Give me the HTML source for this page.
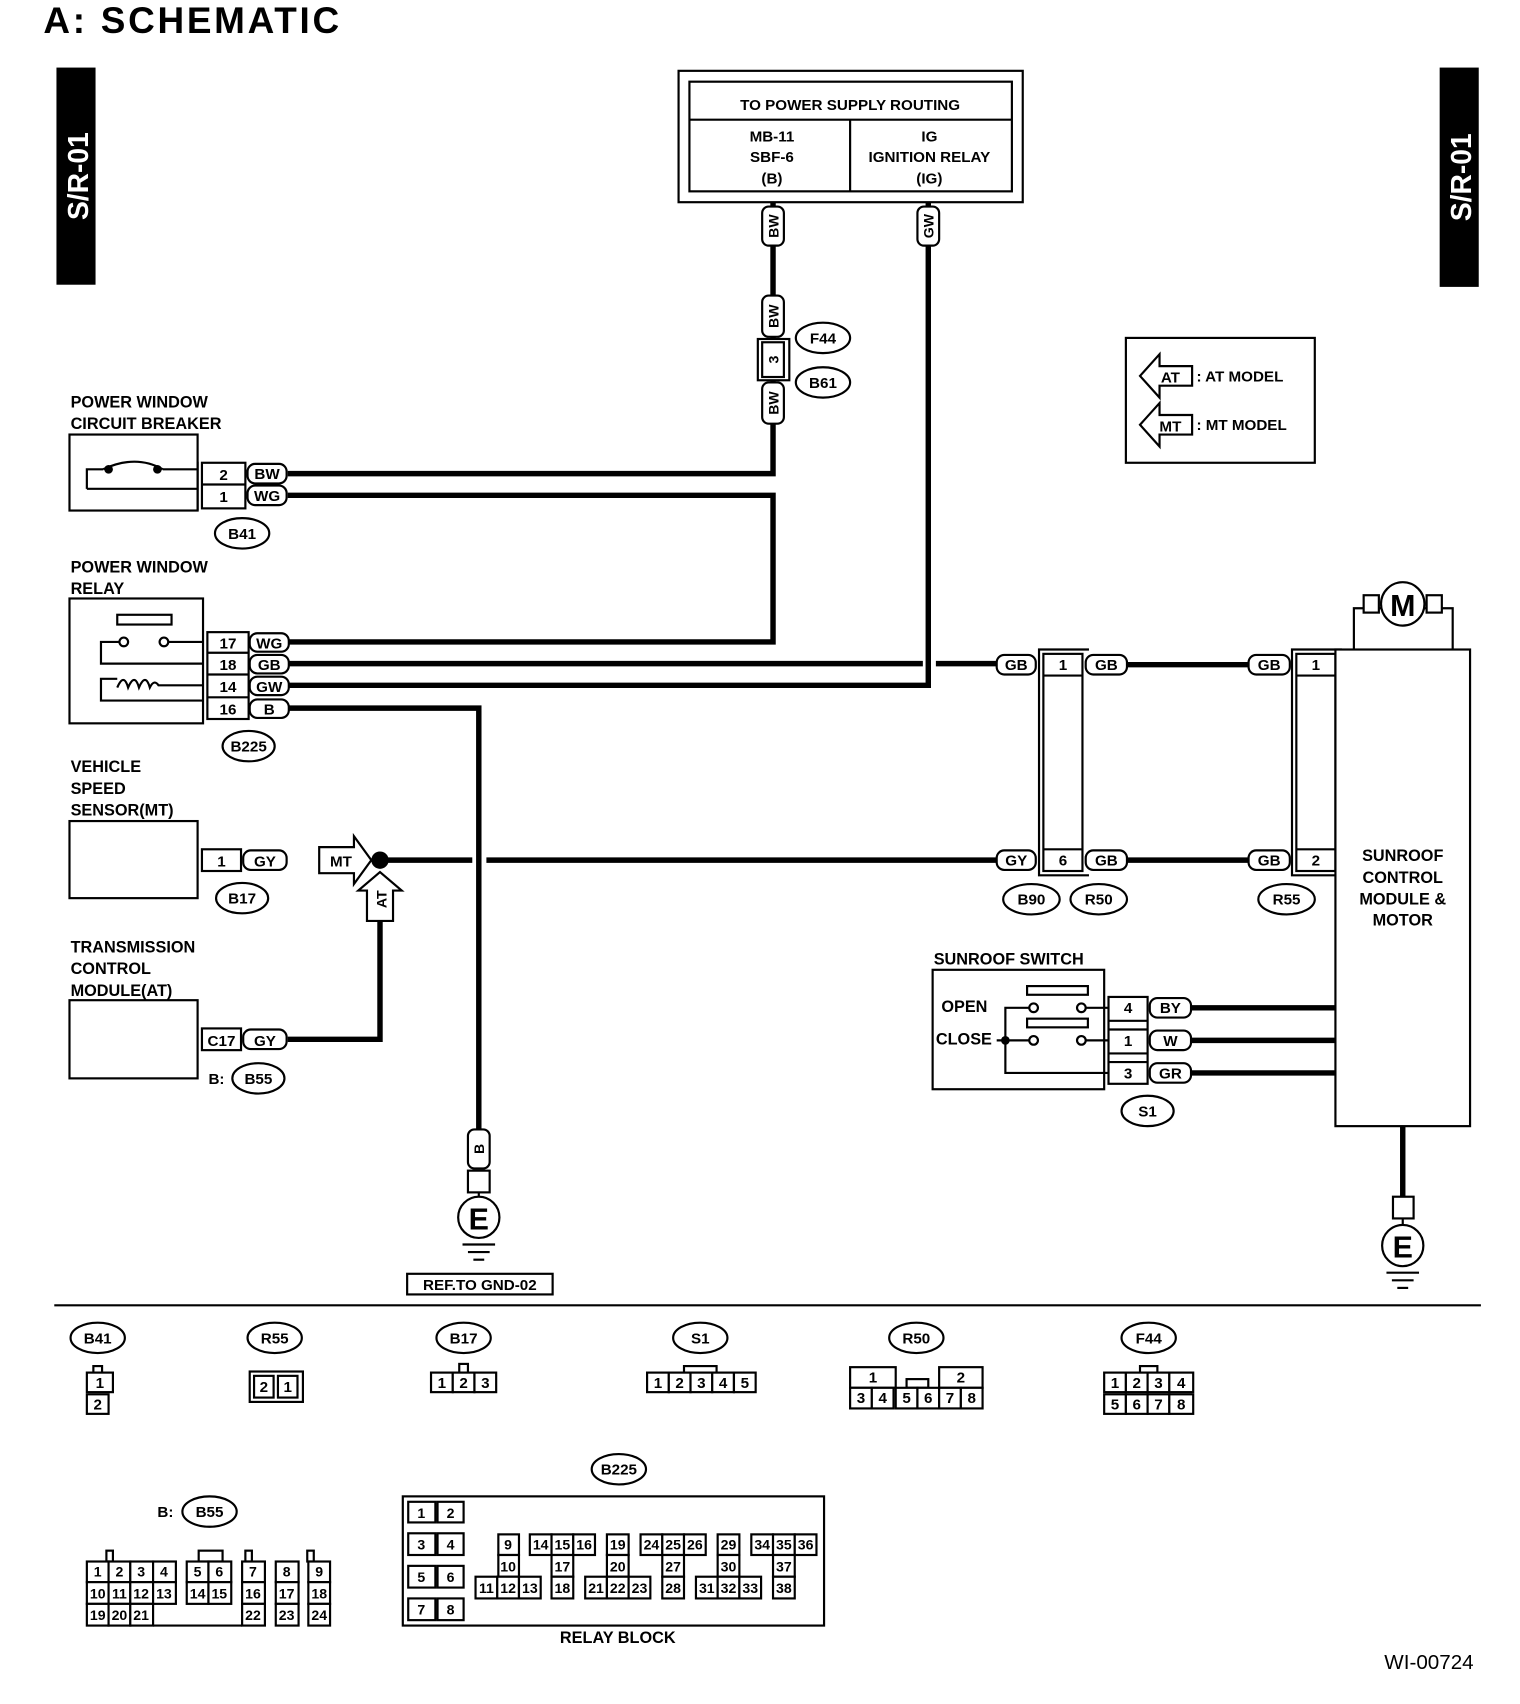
<!DOCTYPE html>
<html><head><meta charset="utf-8"><style>
html,body{margin:0;padding:0;background:#fff;}
svg{display:block;}
text{font-family:"Liberation Sans",sans-serif;font-weight:bold;fill:#000;}
</style></head><body>
<svg width="1520" height="1704" viewBox="0 0 1400 1569" xmlns="http://www.w3.org/2000/svg">
<defs>
<style>
.t{font-size:15px;}
.s{font-size:14px;}
.c{text-anchor:middle;}
.bx{fill:#fff;stroke:#000;stroke-width:2;}
.ln{fill:none;stroke:#000;stroke-width:2;}
.w{fill:none;stroke:#000;stroke-width:5;}
</style>
</defs>
<text x="40" y="30" style="font-size:34px;letter-spacing:2.5px">A:  SCHEMATIC</text>
<rect x="52" y="62" width="36" height="200" fill="#000"/>
<text transform="translate(81,162) rotate(-90)" class="c" style="font-size:26px;fill:#fff">S/R-01</text>
<rect x="1326" y="62" width="36" height="202" fill="#000"/>
<text transform="translate(1355,163) rotate(-90)" class="c" style="font-size:26px;fill:#fff">S/R-01</text>

<rect x="625" y="65" width="317" height="121" class="bx" stroke-width="2.5"/>
<rect x="635" y="75" width="297" height="101" class="bx"/>
<line x1="635" y1="110" x2="932" y2="110" class="ln"/>
<line x1="783" y1="110" x2="783" y2="176" class="ln"/>
<text x="783" y="101" class="s c">TO POWER SUPPLY ROUTING</text>
<text x="711" y="130" class="s c">MB-11</text><text x="711" y="149" class="s c">SBF-6</text><text x="711" y="169" class="s c">(B)</text>
<text x="856" y="130" class="s c">IG</text><text x="856" y="149" class="s c">IGNITION RELAY</text><text x="856" y="169" class="s c">(IG)</text>

<polyline points="712,186 712,436 265,436" class="w"/>
<polyline points="265,456 712,456 712,591 265,591" class="w"/>
<polyline points="265,611 850,611" class="w"/>
<polyline points="862,611 918,611" class="w"/>
<polyline points="855,186 855,631 265,631" class="w"/>
<polyline points="265,652 441,652 441,1040" class="w"/>
<polyline points="350,792 435,792" class="w"/>
<polyline points="448,792 918,792" class="w"/>
<polyline points="265,957 350,957 350,848" class="w"/>
<line x1="1038" y1="612" x2="1150" y2="612" class="w"/>
<line x1="1038" y1="792" x2="1150" y2="792" class="w"/>
<line x1="1097" y1="928" x2="1230" y2="928" class="w"/>
<line x1="1097" y1="958" x2="1230" y2="958" class="w"/>
<line x1="1097" y1="988" x2="1230" y2="988" class="w"/>
<line x1="1292" y1="1037" x2="1292" y2="1102" class="w"/>

<g class="s">
<rect x="702" y="190" width="20" height="36" rx="6" class="bx"/><text transform="translate(717,208) rotate(-90)" class="c" style="font-size:13px">BW</text>
<rect x="845" y="190" width="20" height="36" rx="6" class="bx"/><text transform="translate(860,208) rotate(-90)" class="c" style="font-size:13px">GW</text>
<rect x="702" y="272" width="20" height="38" rx="6" class="bx"/><text transform="translate(717,291) rotate(-90)" class="c" style="font-size:13px">BW</text>
<rect x="698" y="312" width="29" height="38" class="bx"/><rect x="702" y="315" width="20" height="32" class="bx"/><text transform="translate(717,331) rotate(-90)" class="c" style="font-size:13px">3</text>
<rect x="702" y="352" width="20" height="38" rx="6" class="bx"/><text transform="translate(717,371) rotate(-90)" class="c" style="font-size:13px">BW</text>
</g>
<ellipse cx="758" cy="311" rx="25" ry="14" class="bx"/><text x="758" y="316" class="s c">F44</text>
<ellipse cx="758" cy="352" rx="25" ry="14" class="bx"/><text x="758" y="357" class="s c">B61</text>

<text x="65" y="375" class="t">POWER WINDOW</text><text x="65" y="395" class="t">CIRCUIT BREAKER</text>
<rect x="64" y="400" width="118" height="70" class="bx"/>
<polyline points="182,425 182,470" class="ln"/>
<polyline points="80,450 80,432 95,432" class="ln"/><path d="M95,432 Q125,418 150,432" class="ln" stroke-width="4"/>
<polyline points="150,432 182,432" class="ln"/><polyline points="80,450 182,450" class="ln"/>
<circle cx="100" cy="432" r="4"/><circle cx="145" cy="432" r="4"/>
<rect x="186" y="426" width="40" height="42" class="bx"/><line x1="186" y1="446" x2="226" y2="446" class="ln"/>
<text x="206" y="442" class="s c">2</text><text x="206" y="462" class="s c">1</text>
<rect x="228" y="427" width="36" height="18" rx="7" class="bx"/><text x="246" y="441" class="s c">BW</text>
<rect x="228" y="447" width="36" height="18" rx="7" class="bx"/><text x="246" y="461" class="s c">WG</text>
<ellipse cx="223" cy="491" rx="25" ry="14" class="bx"/><text x="223" y="496" class="s c">B41</text>

<text x="65" y="527" class="t">POWER WINDOW</text><text x="65" y="547" class="t">RELAY</text>
<rect x="64" y="551" width="123" height="115" class="bx"/>
<rect x="108" y="566" width="50" height="9" class="bx"/>
<circle cx="114" cy="591" r="4" class="bx"/><circle cx="151" cy="591" r="4" class="bx"/>
<polyline points="110,591 93,591 93,611 187,611" class="ln"/><line x1="155" y1="591" x2="187" y2="591" class="ln"/>
<polyline points="187,645 93,645 93,625 108,625" class="ln"/>
<path d="M108,633 q6,-14 10,0 q6,-14 10,0 q6,-14 10,0 q4,-8 8,-2 L187,631" class="ln"/>
<rect x="191" y="582" width="38" height="80" class="bx"/>
<line x1="191" y1="601" x2="229" y2="601" class="ln"/><line x1="191" y1="621" x2="229" y2="621" class="ln"/><line x1="191" y1="642" x2="229" y2="642" class="ln"/>
<text x="210" y="597" class="s c">17</text><text x="210" y="617" class="s c">18</text><text x="210" y="637" class="s c">14</text><text x="210" y="658" class="s c">16</text>
<rect x="230" y="583" width="36" height="17" rx="7" class="bx"/><text x="248" y="597" class="s c">WG</text>
<rect x="230" y="603" width="36" height="17" rx="7" class="bx"/><text x="248" y="617" class="s c">GB</text>
<rect x="230" y="623" width="36" height="17" rx="7" class="bx"/><text x="248" y="637" class="s c">GW</text>
<rect x="230" y="644" width="36" height="17" rx="7" class="bx"/><text x="248" y="658" class="s c">B</text>
<ellipse cx="229" cy="687" rx="24" ry="14" class="bx"/><text x="229" y="692" class="s c">B225</text>

<text x="65" y="711" class="t">VEHICLE</text><text x="65" y="731" class="t">SPEED</text><text x="65" y="751" class="t">SENSOR(MT)</text>
<rect x="64" y="756" width="118" height="71" class="bx"/>
<rect x="186" y="782" width="36" height="20" class="bx"/><text x="204" y="798" class="s c">1</text>
<rect x="224" y="783" width="40" height="18" rx="7" class="bx"/><text x="244" y="798" class="s c">GY</text>
<ellipse cx="223" cy="827" rx="24" ry="14" class="bx"/><text x="223" y="832" class="s c">B17</text>
<polygon points="294,780 326,780 326,770 342,792 326,814 326,804 294,804" class="bx"/><text x="314" y="798" class="s c">MT</text>
<circle cx="350" cy="792" r="8"/>
<polygon points="338,848 338,820 330,820 350,803 370,820 362,820 362,848" class="bx"/><text transform="translate(356,828) rotate(-90)" class="c" style="font-size:13px">AT</text>

<text x="65" y="877" class="t">TRANSMISSION</text><text x="65" y="897" class="t">CONTROL</text><text x="65" y="917" class="t">MODULE(AT)</text>
<rect x="64" y="921" width="118" height="72" class="bx"/>
<rect x="186" y="947" width="36" height="20" class="bx"/><text x="204" y="963" class="s c">C17</text>
<rect x="224" y="948" width="40" height="18" rx="7" class="bx"/><text x="244" y="963" class="s c">GY</text>
<text x="192" y="998" class="s">B:</text>
<ellipse cx="238" cy="993" rx="24" ry="14" class="bx"/><text x="238" y="998" class="s c">B55</text>

<rect x="431" y="1040" width="20" height="36" rx="6" class="bx"/><text transform="translate(446,1058) rotate(-90)" class="c" style="font-size:13px">B</text>
<rect x="431" y="1078" width="20" height="20" class="bx"/>
<line x1="441" y1="1098" x2="441" y2="1102" class="ln"/>
<circle cx="441" cy="1121" r="19" class="bx" stroke-width="3"/><text x="441" y="1132" class="c" style="font-size:28px">E</text>
<line x1="426" y1="1146" x2="456" y2="1146" class="ln"/><line x1="431" y1="1153" x2="451" y2="1153" class="ln"/><line x1="436" y1="1160" x2="446" y2="1160" class="ln"/>
<rect x="375" y="1173" width="134" height="19" class="bx"/><text x="442" y="1188" class="s c">REF.TO GND-02</text>

<rect x="918" y="603" width="36" height="18" rx="7" class="bx"/><text x="936" y="617" class="s c">GB</text>
<rect x="918" y="783" width="36" height="18" rx="7" class="bx"/><text x="936" y="797" class="s c">GY</text>
<polyline points="1003,598 957,598 957,806 1003,806" class="ln"/>
<rect x="961" y="602" width="36" height="200" class="bx"/>
<line x1="961" y1="622" x2="997" y2="622" class="ln"/><line x1="961" y1="782" x2="997" y2="782" class="ln"/>
<text x="979" y="617" class="s c">1</text><text x="979" y="797" class="s c">6</text>
<rect x="1000" y="603" width="38" height="18" rx="7" class="bx"/><text x="1019" y="617" class="s c">GB</text>
<rect x="1000" y="783" width="38" height="18" rx="7" class="bx"/><text x="1019" y="797" class="s c">GB</text>
<ellipse cx="950" cy="828" rx="26" ry="14" class="bx"/><text x="950" y="833" class="s c">B90</text>
<ellipse cx="1012" cy="828" rx="26" ry="14" class="bx"/><text x="1012" y="833" class="s c">R50</text>
<rect x="1150" y="603" width="38" height="18" rx="7" class="bx"/><text x="1169" y="617" class="s c">GB</text>
<rect x="1150" y="783" width="38" height="18" rx="7" class="bx"/><text x="1169" y="797" class="s c">GB</text>
<polyline points="1236,598 1190,598 1190,806 1236,806" class="ln"/>
<rect x="1194" y="602" width="36" height="200" class="bx"/>
<line x1="1194" y1="622" x2="1230" y2="622" class="ln"/><line x1="1194" y1="782" x2="1230" y2="782" class="ln"/>
<text x="1212" y="617" class="s c">1</text><text x="1212" y="797" class="s c">2</text>
<ellipse cx="1185" cy="828" rx="26" ry="14" class="bx"/><text x="1185" y="833" class="s c">R55</text>

<rect x="1230" y="598" width="124" height="439" class="bx"/>
<text x="1292" y="793" class="t c">SUNROOF</text><text x="1292" y="813" class="t c">CONTROL</text><text x="1292" y="833" class="t c">MODULE &amp;</text><text x="1292" y="852" class="t c">MOTOR</text>
<polyline points="1247,598 1247,560 1338,560 1338,598" class="ln"/>
<rect x="1256" y="548" width="14" height="16" class="bx"/><rect x="1314" y="548" width="14" height="16" class="bx"/>
<circle cx="1292" cy="556" r="20" class="bx" stroke-width="3"/><text x="1292" y="567" class="c" style="font-size:28px">M</text>
<rect x="1283" y="1102" width="19" height="20" class="bx"/>
<line x1="1292" y1="1122" x2="1292" y2="1128" class="ln"/>
<circle cx="1292" cy="1147" r="19" class="bx" stroke-width="3"/><text x="1292" y="1158" class="c" style="font-size:28px">E</text>
<line x1="1277" y1="1172" x2="1307" y2="1172" class="ln"/><line x1="1282" y1="1179" x2="1302" y2="1179" class="ln"/><line x1="1287" y1="1186" x2="1297" y2="1186" class="ln"/>

<text x="860" y="888" class="t">SUNROOF SWITCH</text>
<rect x="859" y="893" width="158" height="110" class="bx"/>
<text x="867" y="932" class="t">OPEN</text><text x="862" y="962" class="t">CLOSE</text>
<rect x="946" y="908" width="56" height="8" class="bx"/><rect x="946" y="938" width="56" height="8" class="bx"/>
<circle cx="952" cy="928" r="4" class="bx"/><circle cx="996" cy="928" r="4" class="bx"/>
<circle cx="952" cy="958" r="4" class="bx"/><circle cx="996" cy="958" r="4" class="bx"/>
<polyline points="948,928 926,928 926,988 1021,988" class="ln"/>
<line x1="918" y1="958" x2="948" y2="958" class="ln"/><circle cx="926" cy="958" r="4"/>
<line x1="1000" y1="928" x2="1021" y2="928" class="ln"/><line x1="1000" y1="958" x2="1021" y2="958" class="ln"/>
<rect x="1021" y="918" width="36" height="80" class="bx"/>
<line x1="1021" y1="940" x2="1057" y2="940" class="ln"/><line x1="1021" y1="948" x2="1057" y2="948" class="ln"/><line x1="1021" y1="970" x2="1057" y2="970" class="ln"/><line x1="1021" y1="978" x2="1057" y2="978" class="ln"/>
<text x="1039" y="933" class="s c">4</text><text x="1039" y="963" class="s c">1</text><text x="1039" y="993" class="s c">3</text>
<rect x="1059" y="919" width="38" height="18" rx="7" class="bx"/><text x="1078" y="933" class="s c">BY</text>
<rect x="1059" y="949" width="38" height="18" rx="7" class="bx"/><text x="1078" y="963" class="s c">W</text>
<rect x="1059" y="979" width="38" height="18" rx="7" class="bx"/><text x="1078" y="993" class="s c">GR</text>
<ellipse cx="1057" cy="1023" rx="24" ry="14" class="bx"/><text x="1057" y="1028" class="s c">S1</text>

<rect x="1037" y="311" width="174" height="115" class="bx"/>
<polygon points="1050,346 1068,326 1068,337 1098,337 1098,355 1068,355 1068,366" class="bx"/><text x="1078" y="352" class="s c">AT</text>
<text x="1102" y="351" class="s">: AT MODEL</text>
<polygon points="1050,391 1068,371 1068,382 1098,382 1098,400 1068,400 1068,411" class="bx"/><text x="1078" y="397" class="s c">MT</text>
<text x="1102" y="396" class="s">: MT MODEL</text>

<line x1="50" y1="1202" x2="1364" y2="1202" class="ln"/>

<g class="s">
<ellipse cx="90" cy="1232" rx="25" ry="14" class="bx"/><text x="90" y="1237" class="c">B41</text>
<rect x="86" y="1258" width="8" height="6" class="bx"/>
<rect x="80" y="1264" width="24" height="18" class="bx"/><text x="92" y="1278" class="c">1</text>
<rect x="80" y="1284" width="20" height="18" class="bx"/><text x="90" y="1298" class="c">2</text>

<ellipse cx="253" cy="1232" rx="25" ry="14" class="bx"/><text x="253" y="1237" class="c">R55</text>
<rect x="230" y="1263" width="49" height="28" class="bx"/>
<rect x="234" y="1267" width="18" height="20" class="bx"/><text x="243" y="1282" class="c">2</text>
<rect x="256" y="1267" width="18" height="20" class="bx"/><text x="265" y="1282" class="c">1</text>

<ellipse cx="427" cy="1232" rx="25" ry="14" class="bx"/><text x="427" y="1237" class="c">B17</text>
<rect x="423" y="1256" width="8" height="8" class="bx"/>
<rect x="397" y="1264" width="20" height="18" class="bx"/><text x="407" y="1278" class="c">1</text>
<rect x="417" y="1264" width="20" height="18" class="bx"/><text x="427" y="1278" class="c">2</text>
<rect x="437" y="1264" width="20" height="18" class="bx"/><text x="447" y="1278" class="c">3</text>

<ellipse cx="645" cy="1232" rx="25" ry="14" class="bx"/><text x="645" y="1237" class="c">S1</text>
<rect x="630" y="1258" width="30" height="6" class="bx"/>
<rect x="596" y="1264" width="20" height="18" class="bx"/><text x="606" y="1278" class="c">1</text>
<rect x="616" y="1264" width="20" height="18" class="bx"/><text x="626" y="1278" class="c">2</text>
<rect x="636" y="1264" width="20" height="18" class="bx"/><text x="646" y="1278" class="c">3</text>
<rect x="656" y="1264" width="20" height="18" class="bx"/><text x="666" y="1278" class="c">4</text>
<rect x="676" y="1264" width="20" height="18" class="bx"/><text x="686" y="1278" class="c">5</text>

<ellipse cx="844" cy="1232" rx="25" ry="14" class="bx"/><text x="844" y="1237" class="c">R50</text>
<rect x="783" y="1259" width="42" height="19" class="bx"/><text x="804" y="1273" class="c">1</text>
<rect x="865" y="1259" width="40" height="19" class="bx"/><text x="885" y="1273" class="c">2</text>
<rect x="835" y="1270" width="20" height="8" class="bx"/>
<rect x="783" y="1278" width="20" height="19" class="bx"/><text x="793" y="1292" class="c">3</text>
<rect x="803" y="1278" width="20" height="19" class="bx"/><text x="813" y="1292" class="c">4</text>
<rect x="825" y="1278" width="20" height="19" class="bx"/><text x="835" y="1292" class="c">5</text>
<rect x="845" y="1278" width="20" height="19" class="bx"/><text x="855" y="1292" class="c">6</text>
<rect x="865" y="1278" width="20" height="19" class="bx"/><text x="875" y="1292" class="c">7</text>
<rect x="885" y="1278" width="20" height="19" class="bx"/><text x="895" y="1292" class="c">8</text>

<ellipse cx="1058" cy="1232" rx="25" ry="14" class="bx"/><text x="1058" y="1237" class="c">F44</text>
<rect x="1050" y="1258" width="16" height="6" class="bx"/>
<rect x="1017" y="1264" width="20" height="18" class="bx"/><text x="1027" y="1278" class="c">1</text>
<rect x="1037" y="1264" width="20" height="18" class="bx"/><text x="1047" y="1278" class="c">2</text>
<rect x="1057" y="1264" width="20" height="18" class="bx"/><text x="1067" y="1278" class="c">3</text>
<rect x="1077" y="1264" width="22" height="18" class="bx"/><text x="1088" y="1278" class="c">4</text>
<rect x="1017" y="1284" width="20" height="18" class="bx"/><text x="1027" y="1298" class="c">5</text>
<rect x="1037" y="1284" width="20" height="18" class="bx"/><text x="1047" y="1298" class="c">6</text>
<rect x="1057" y="1284" width="20" height="18" class="bx"/><text x="1067" y="1298" class="c">7</text>
<rect x="1077" y="1284" width="22" height="18" class="bx"/><text x="1088" y="1298" class="c">8</text>

<text x="145" y="1397">B:</text>
<ellipse cx="193" cy="1392" rx="25" ry="14" class="bx"/><text x="193" y="1397" class="c">B55</text>
<rect x="98" y="1428" width="6" height="10" class="bx"/><rect x="183" y="1428" width="22" height="10" class="bx"/><rect x="226" y="1428" width="6" height="10" class="bx"/><rect x="283" y="1428" width="6" height="10" class="bx"/>
<g style="font-size:13px">
<rect x="80" y="1438" width="20" height="19" class="bx"/><text x="90" y="1452" class="c">1</text>
<rect x="100" y="1438" width="20" height="19" class="bx"/><text x="110" y="1452" class="c">2</text>
<rect x="120" y="1438" width="21" height="19" class="bx"/><text x="130" y="1452" class="c">3</text>
<rect x="141" y="1438" width="21" height="19" class="bx"/><text x="151" y="1452" class="c">4</text>
<rect x="172" y="1438" width="20" height="19" class="bx"/><text x="182" y="1452" class="c">5</text>
<rect x="192" y="1438" width="21" height="19" class="bx"/><text x="202" y="1452" class="c">6</text>
<rect x="223" y="1438" width="21" height="19" class="bx"/><text x="233" y="1452" class="c">7</text>
<rect x="254" y="1438" width="21" height="19" class="bx"/><text x="264" y="1452" class="c">8</text>
<rect x="284" y="1438" width="20" height="19" class="bx"/><text x="294" y="1452" class="c">9</text>
<rect x="80" y="1457" width="20" height="20" class="bx"/><text x="90" y="1472" class="c">10</text>
<rect x="100" y="1457" width="20" height="20" class="bx"/><text x="110" y="1472" class="c">11</text>
<rect x="120" y="1457" width="21" height="20" class="bx"/><text x="130" y="1472" class="c">12</text>
<rect x="141" y="1457" width="21" height="20" class="bx"/><text x="151" y="1472" class="c">13</text>
<rect x="172" y="1457" width="20" height="20" class="bx"/><text x="182" y="1472" class="c">14</text>
<rect x="192" y="1457" width="21" height="20" class="bx"/><text x="202" y="1472" class="c">15</text>
<rect x="223" y="1457" width="21" height="20" class="bx"/><text x="233" y="1472" class="c">16</text>
<rect x="254" y="1457" width="21" height="20" class="bx"/><text x="264" y="1472" class="c">17</text>
<rect x="284" y="1457" width="20" height="20" class="bx"/><text x="294" y="1472" class="c">18</text>
<rect x="80" y="1477" width="20" height="20" class="bx"/><text x="90" y="1492" class="c">19</text>
<rect x="100" y="1477" width="20" height="20" class="bx"/><text x="110" y="1492" class="c">20</text>
<rect x="120" y="1477" width="21" height="20" class="bx"/><text x="130" y="1492" class="c">21</text>
<line x1="141" y1="1497" x2="223" y2="1497" class="ln"/>
<rect x="223" y="1477" width="21" height="20" class="bx"/><text x="233" y="1492" class="c">22</text>
<rect x="254" y="1477" width="21" height="20" class="bx"/><text x="264" y="1492" class="c">23</text>
<rect x="284" y="1477" width="20" height="20" class="bx"/><text x="294" y="1492" class="c">24</text>
</g>

<ellipse cx="570" cy="1353" rx="25" ry="14" class="bx"/><text x="570" y="1358" class="c">B225</text>
<rect x="371" y="1378" width="388" height="119" class="bx"/>
<g style="font-size:13px">
<rect x="376" y="1383" width="25" height="19" class="bx"/><text x="388" y="1398" class="c">1</text>
<rect x="403" y="1383" width="24" height="19" class="bx"/><text x="415" y="1398" class="c">2</text>
<rect x="376" y="1412" width="25" height="20" class="bx"/><text x="388" y="1427" class="c">3</text>
<rect x="403" y="1412" width="24" height="20" class="bx"/><text x="415" y="1427" class="c">4</text>
<rect x="376" y="1442" width="25" height="20" class="bx"/><text x="388" y="1457" class="c">5</text>
<rect x="403" y="1442" width="24" height="20" class="bx"/><text x="415" y="1457" class="c">6</text>
<rect x="376" y="1472" width="25" height="20" class="bx"/><text x="388" y="1487" class="c">7</text>
<rect x="403" y="1472" width="24" height="20" class="bx"/><text x="415" y="1487" class="c">8</text>

<rect x="459" y="1413" width="19" height="19" class="bx"/><text x="468" y="1427" class="c">9</text>
<rect x="488" y="1413" width="20" height="19" class="bx"/><text x="498" y="1427" class="c">14</text>
<rect x="508" y="1413" width="20" height="19" class="bx"/><text x="518" y="1427" class="c">15</text>
<rect x="528" y="1413" width="20" height="19" class="bx"/><text x="538" y="1427" class="c">16</text>
<rect x="559" y="1413" width="20" height="19" class="bx"/><text x="569" y="1427" class="c">19</text>
<rect x="590" y="1413" width="20" height="19" class="bx"/><text x="600" y="1427" class="c">24</text>
<rect x="610" y="1413" width="20" height="19" class="bx"/><text x="620" y="1427" class="c">25</text>
<rect x="630" y="1413" width="20" height="19" class="bx"/><text x="640" y="1427" class="c">26</text>
<rect x="661" y="1413" width="20" height="19" class="bx"/><text x="671" y="1427" class="c">29</text>
<rect x="692" y="1413" width="20" height="19" class="bx"/><text x="702" y="1427" class="c">34</text>
<rect x="712" y="1413" width="20" height="19" class="bx"/><text x="722" y="1427" class="c">35</text>
<rect x="732" y="1413" width="20" height="19" class="bx"/><text x="742" y="1427" class="c">36</text>

<rect x="459" y="1432" width="19" height="20" class="bx"/><text x="468" y="1447" class="c">10</text>
<rect x="508" y="1432" width="20" height="20" class="bx"/><text x="518" y="1447" class="c">17</text>
<rect x="559" y="1432" width="20" height="20" class="bx"/><text x="569" y="1447" class="c">20</text>
<rect x="610" y="1432" width="20" height="20" class="bx"/><text x="620" y="1447" class="c">27</text>
<rect x="661" y="1432" width="20" height="20" class="bx"/><text x="671" y="1447" class="c">30</text>
<rect x="712" y="1432" width="20" height="20" class="bx"/><text x="722" y="1447" class="c">37</text>

<rect x="438" y="1452" width="20" height="20" class="bx"/><text x="448" y="1467" class="c">11</text>
<rect x="458" y="1452" width="20" height="20" class="bx"/><text x="468" y="1467" class="c">12</text>
<rect x="478" y="1452" width="20" height="20" class="bx"/><text x="488" y="1467" class="c">13</text>
<rect x="508" y="1452" width="20" height="20" class="bx"/><text x="518" y="1467" class="c">18</text>
<rect x="539" y="1452" width="20" height="20" class="bx"/><text x="549" y="1467" class="c">21</text>
<rect x="559" y="1452" width="20" height="20" class="bx"/><text x="569" y="1467" class="c">22</text>
<rect x="579" y="1452" width="20" height="20" class="bx"/><text x="589" y="1467" class="c">23</text>
<rect x="610" y="1452" width="20" height="20" class="bx"/><text x="620" y="1467" class="c">28</text>
<rect x="641" y="1452" width="20" height="20" class="bx"/><text x="651" y="1467" class="c">31</text>
<rect x="661" y="1452" width="20" height="20" class="bx"/><text x="671" y="1467" class="c">32</text>
<rect x="681" y="1452" width="20" height="20" class="bx"/><text x="691" y="1467" class="c">33</text>
<rect x="712" y="1452" width="20" height="20" class="bx"/><text x="722" y="1467" class="c">38</text>
</g>
<text x="569" y="1513" class="c" style="font-size:15px">RELAY BLOCK</text>
</g>
<text x="1275" y="1537" style="font-size:19px;font-weight:normal">WI-00724</text>
</svg>
</body></html>
